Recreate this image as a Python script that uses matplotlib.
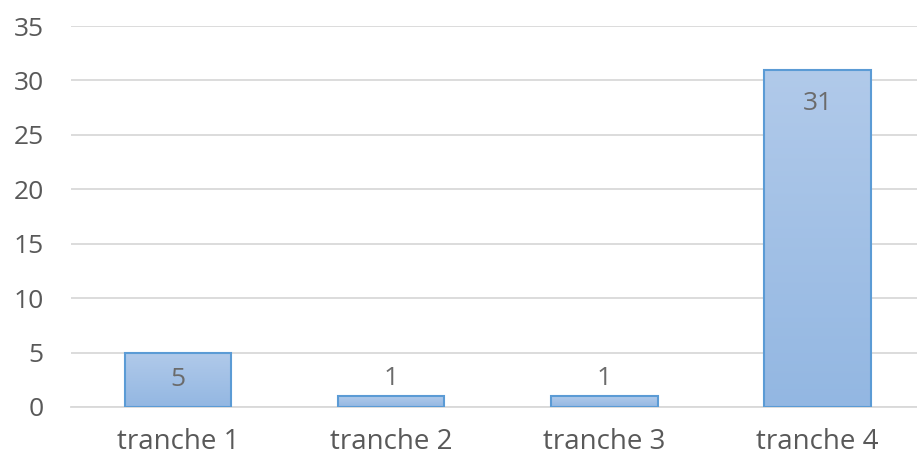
import matplotlib
matplotlib.use("Agg")
import matplotlib.pyplot as plt
import numpy as np
from matplotlib.colors import LinearSegmentedColormap

categories = ["tranche 1", "tranche 2", "tranche 3", "tranche 4"]
values = [5, 1, 1, 31]
yticks = [0, 5, 10, 15, 20, 25, 30, 35]

plt.rcParams['font.family'] = ['Open Sans', 'DejaVu Sans']
W, H, DPI = 917, 458, 100
fig = plt.figure(figsize=(W / DPI, H / DPI), dpi=DPI)
ax = fig.add_axes([71.3 / W, 1 - 407 / H, 853 / W, (407 - 26) / H])
ax.set_xlim(-0.5, 3.5)
ax.set_ylim(0, 35)

x = np.arange(len(categories))
bars = ax.bar(x, values, width=0.5, color='none', edgecolor='#5b9bd5', linewidth=1.5, zorder=3)

cmap = LinearSegmentedColormap.from_list('g', ['#93b7e2', '#b1caea'])
grad = np.linspace(0, 1, 256).reshape(-1, 1)
for b in bars:
    x0, y0 = b.get_x(), b.get_y()
    w, h = b.get_width(), b.get_height()
    im = ax.imshow(grad, cmap=cmap, origin='lower', aspect='auto',
                   extent=[x0, x0 + w, y0, y0 + h], zorder=2)
    im.set_clip_path(b)
ax.set_xlim(-0.5, 3.5)
ax.set_ylim(0, 35)

ppu = (407 - 26) / 35.0
for xi, v in zip(x, values):
    hpx = v * ppu
    if hpx / 2 >= 15:
        off = -min(34, hpx / 2)
    else:
        off = 18
    ax.annotate(str(v), (xi, v), xytext=(0, off * 72 / DPI), textcoords='offset points',
                ha='center', va='center', fontsize=19, color='#6b6b6b', zorder=4)

ax.set_yticks(yticks)
ax.set_xticks(x)
ax.set_xticklabels(categories)
ax.grid(axis='y', color='#d9d9d9', linewidth=1.3, zorder=0)
ax.set_axisbelow(True)
for s in ['left', 'right', 'top']:
    ax.spines[s].set_visible(False)
ax.spines['bottom'].set_color('#d9d9d9')
ax.spines['bottom'].set_linewidth(1.3)
ax.tick_params(axis='y', length=0, pad=20, labelsize=19, labelcolor='#595959')
ax.tick_params(axis='x', length=0, pad=15, labelsize=20, labelcolor='#595959')

fig.savefig('out.png', dpi=DPI)
